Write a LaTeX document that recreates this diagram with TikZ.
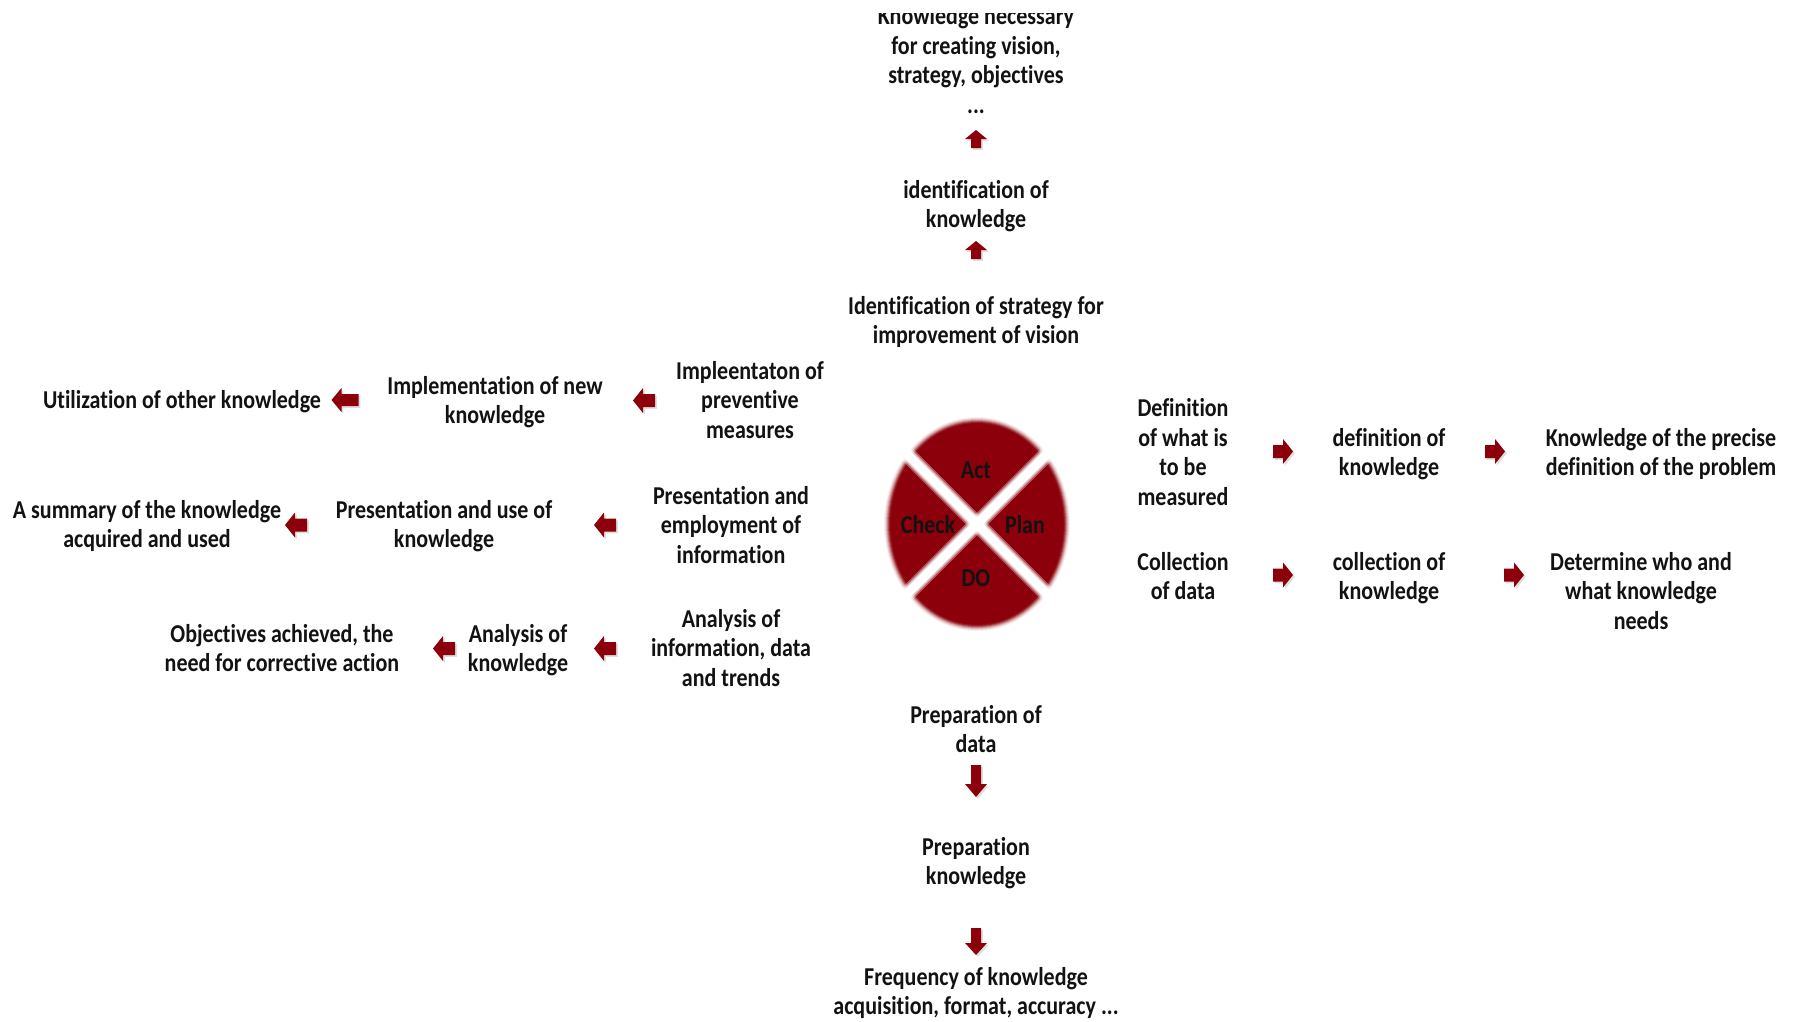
\documentclass[tikz,border=0pt]{standalone}
\usepackage{fontspec}
\usepackage{graphicx}
\setmainfont{Carlito}[Ligatures=NoCommon]
\definecolor{dred}{RGB}{139,0,10}
\definecolor{txtc}{RGB}{18,18,18}
\newcommand\tx[1]{\scalebox{1}[1.17]{\begin{tabular}{@{}c@{}}#1\end{tabular}}}
% block arrow: name, x, y, angle, length, head width, shaft width, head length
\newcommand\blockarr[8]{%
  \coordinate (#1) at (#2,#3);
  \fill[black, opacity=0.13, shift={(#2+1.8,#3+1.8)}, rotate=#4]
    (-#5/2,-#7/2) -- (#5/2-#8,-#7/2) -- (#5/2-#8,-#6/2) -- (#5/2,0) -- (#5/2-#8,#6/2) -- (#5/2-#8,#7/2) -- (-#5/2,#7/2) -- cycle;
  \fill[dred, shift={(#2,#3)}, rotate=#4]
    (-#5/2,-#7/2) -- (#5/2-#8,-#7/2) -- (#5/2-#8,-#6/2) -- (#5/2,0) -- (#5/2-#8,#6/2) -- (#5/2-#8,#7/2) -- (-#5/2,#7/2) -- cycle;
}
\tikzset{
  txt/.style={font=\bfseries\fontsize{22}{25.5}\selectfont, text=txtc, inner sep=0pt, yshift=-3pt},
}
\begin{document}
\begin{tikzpicture}[x=1pt,y=-1pt]
\clip (0,0) rectangle (1796,1021);
\fill[white] (0,0) rectangle (1796,1021);

% --- central PDCA wheel ---
\coordinate (wc) at (977,524);
\foreach \r/\o in {6/0.06,5/0.1,4/0.16,3/0.25,2/0.4,1/0.6,0/0.8}
  \fill[dred, opacity=\o] (wc) ellipse [x radius=87pt+\r pt, y radius=101pt+\r pt];
\fill[dred] (wc) ellipse [x radius=86pt, y radius=100pt];
\draw[white, opacity=0.35, line width=16pt] (wc) ++(-140,-140) -- ++(280,280);
\draw[white, opacity=0.35, line width=16pt] (wc) ++(140,-140) -- ++(-280,280);
\draw[white, opacity=0.6, line width=12.5pt] (wc) ++(-140,-140) -- ++(280,280);
\draw[white, opacity=0.6, line width=12.5pt] (wc) ++(140,-140) -- ++(-280,280);
\draw[white, line width=9pt] (wc) ++(-140,-140) -- ++(280,280);
\draw[white, line width=9pt] (wc) ++(140,-140) -- ++(-280,280);
\node[txt] (act) at (976,470) {\tx{Act}};
\node[txt] (check) at (928,525) {\tx{Check}};
\node[txt] (plan) at (1025,525) {\tx{Plan}};
\node[txt] (do) at (976,578) {\tx{DO}};

% --- upward branch ---
\begin{scope}
  \clip (0,13) rectangle (1796,1021);
  \node[txt] (top) at (976,60) {\tx{Knowledge necessary\\for creating vision,\\strategy, objectives\\...}};
\end{scope}
\blockarr{ua1}{976}{139}{90}{18}{22}{10}{9}
\node[txt] (ident) at (976,204) {\tx{identification of\\knowledge}};
\blockarr{ua2}{976}{250}{90}{18}{22}{10}{9}
\node[txt] (strat) at (976,320) {\tx{Identification of strategy for\\improvement of vision}};

% --- right branch ---
\node[txt] (def1) at (1183,452) {\tx{Definition\\of what is\\to be\\measured}};
\blockarr{ra1}{1283}{451.5}{0}{20}{25}{13}{10}
\node[txt] (def2) at (1389,452) {\tx{definition of\\knowledge}};
\blockarr{ra2}{1495}{451.5}{0}{20}{25}{13}{10}
\node[txt] (def3) at (1661,452) {\tx{Knowledge of the precise\\definition of the problem}};

\node[txt] (col1) at (1183,576) {\tx{Collection\\of data}};
\blockarr{ra3}{1283}{575}{0}{20}{25}{13}{10}
\node[txt] (col2) at (1389,576) {\tx{collection of\\knowledge}};
\blockarr{ra4}{1514}{575}{0}{20}{25}{13}{10}
\node[txt] (col3) at (1641,591) {\tx{Determine who and\\what knowledge\\needs}};

% --- downward branch ---
\node[txt] (prep1) at (976,729) {\tx{Preparation of\\data}};
\blockarr{da1}{976}{781}{-90}{32}{22}{10}{13}
\node[txt] (prep2) at (976,861) {\tx{Preparation\\knowledge}};
\blockarr{da2}{976}{941.5}{-90}{27}{22}{10}{12}
\node[txt] (freq) at (976,991) {\tx{Frequency of knowledge\\acquisition, format, accuracy ...}};

% --- left branch ---
\node[txt] (l11) at (750,400) {\tx{Impleentaton of\\preventive\\measures}};
\blockarr{la11}{644}{400.5}{180}{22}{25}{13}{10}
\node[txt] (l12) at (495,400) {\tx{Implementation of new\\knowledge}};
\blockarr{la12}{345}{400}{180}{27}{24}{12}{10}
\node[txt] (l13) at (182,400) {\tx{Utilization of other knowledge}};

\node[txt] (l21) at (731,525) {\tx{Presentation and\\employment of\\information}};
\blockarr{la21}{605}{525}{180}{22}{25}{13}{10}
\node[txt] (l22) at (444,524) {\tx{Presentation and use of\\knowledge}};
\blockarr{la22}{296}{525}{180}{22}{25}{13}{10}
\node[txt] (l23) at (147,524) {\tx{A summary of the knowledge\\acquired and used}};

\node[txt] (l31) at (731,648) {\tx{Analysis of\\information, data\\and trends}};
\blockarr{la31}{605}{648.5}{180}{22}{25}{13}{10}
\node[txt] (l32) at (518,648) {\tx{Analysis of\\knowledge}};
\blockarr{la32}{444}{648.5}{180}{22}{25}{13}{10}
\node[txt] (l33) at (282,648) {\tx{Objectives achieved, the\\need for corrective action}};
\end{tikzpicture}
\end{document}
